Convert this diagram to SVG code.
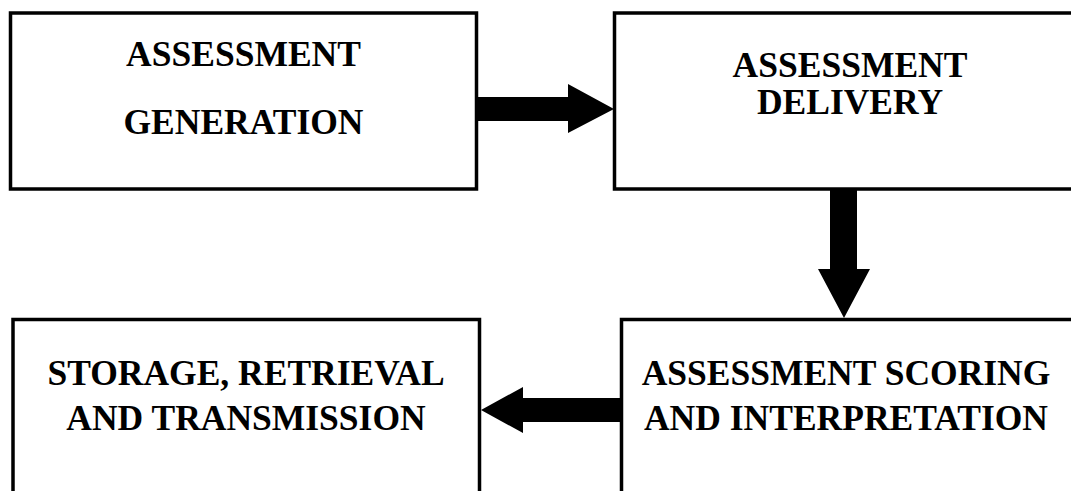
<svg xmlns="http://www.w3.org/2000/svg" width="1071" height="491" viewBox="0 0 1071 491">
<style>
.box{fill:#fff;stroke:#000;stroke-width:3.5}
.t{font-family:"Liberation Serif","Times New Roman",serif;font-weight:bold;font-size:35.5px;fill:#000;text-anchor:middle}
.arr{fill:#000;stroke:none}
</style>
<rect width="1071" height="491" fill="#fff"/>
<g id="node-generation">
<rect class="box" x="10.5" y="13" width="466" height="176"/>
<text class="t" x="243.5" y="66">ASSESSMENT</text>
<text class="t" x="243.5" y="134">GENERATION</text>
</g>
<g id="node-delivery">
<rect class="box" x="614.5" y="13" width="480" height="176"/>
<text class="t" x="850" y="77">ASSESSMENT</text>
<text class="t" x="850" y="114">DELIVERY</text>
</g>
<g id="node-storage">
<rect class="box" x="13" y="319.5" width="466.5" height="200"/>
<text class="t" x="246" y="385">STORAGE, RETRIEVAL</text>
<text class="t" x="246" y="430">AND TRANSMISSION</text>
</g>
<g id="node-scoring">
<rect class="box" x="621.5" y="319.5" width="480" height="200"/>
<text class="t" x="846" y="385">ASSESSMENT SCORING</text>
<text class="t" x="846" y="430">AND INTERPRETATION</text>
</g>
<g id="connectors">
<polygon class="arr" points="478,97 568,97 568,84 614,109 568,133 568,121 478,121"/>
<polygon class="arr" points="830,190 857,190 857,269 870,269 844,318 818,269 830,269"/>
<polygon class="arr" points="620,398 523,398 523,387 481,410 523,433 523,422 620,422"/>
</g>
</svg>
